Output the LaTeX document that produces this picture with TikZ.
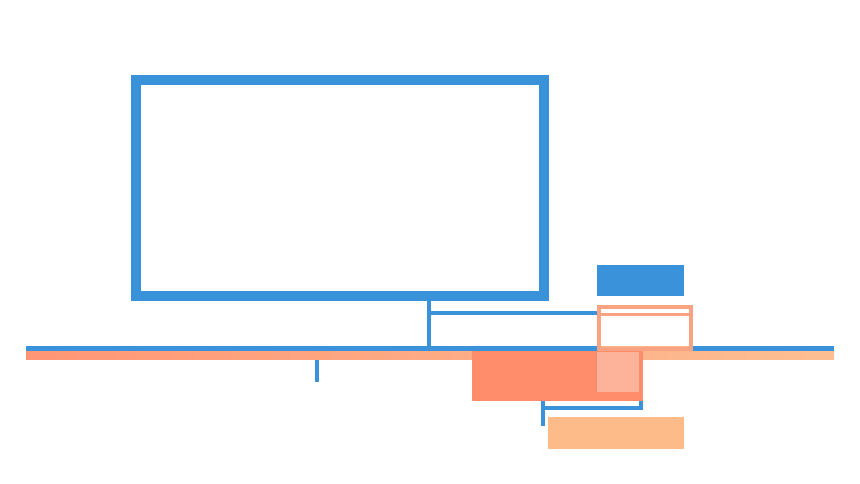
\documentclass[tikz,border=0pt]{standalone}
\definecolor{cblue}{HTML}{3A92DA}
\definecolor{csalmon}{HTML}{FF8D6C}
\definecolor{clight}{HTML}{FDB39A}
\definecolor{coutline}{HTML}{F9A383}
\definecolor{cpeach}{HTML}{FDBB8A}
\definecolor{corangeL}{HTML}{FF9676}
\definecolor{corangeR}{HTML}{FDBF92}
\tikzset{
  box/.style={draw=none, inner sep=0pt, outer sep=0pt, anchor=north west},
  wire/.style={draw=cblue, line width=4pt},
}
\begin{document}
\begin{tikzpicture}[x=1pt,y=-1pt]
\useasboundingbox[fill=white] (0,0) rectangle (860,484);
% screen
\node[draw=cblue, line width=10pt, inner sep=0pt, outer sep=0pt, minimum width=408pt, minimum height=216pt, anchor=north west] (screen) at (136,80) {};
% baseline
\coordinate (bl) at (26,348.5);
\coordinate (br) at (834,348.5);
\draw[cblue, line width=5pt] (bl) -- (br);
\node[box, minimum width=808pt, minimum height=8pt, left color=corangeL, right color=corangeR] (band) at (26,351.5) {};
% blue filled box
\node[box, fill=cblue, minimum width=87pt, minimum height=31pt] (bluebox) at (597,265) {};
% orange outline box
\fill[corangeR!70!corangeL] (597,345.5) rectangle (692,351.5);
\node[draw=coutline, line width=3.5pt, inner sep=0pt, outer sep=0pt, minimum width=92pt, minimum height=42pt, anchor=north west] (obox) at (598.75,307) {};
\coordinate (oi1) at (599,314.5);
\coordinate (oi2) at (691,314.5);
\draw[coutline, line width=3pt] (oi1) -- (oi2);
% connectors from screen
\coordinate (s1) at (429,301);
\coordinate (s2) at (429,346);
\coordinate (s3) at (429,313);
\coordinate (s4) at (597,313);
\draw[wire] (s1) -- (s2);
\draw[wire] (s3) -- (s4);
% small tick
\coordinate (t1) at (317,359.5);
\coordinate (t2) at (317,382);
\draw[wire] (t1) -- (t2);
% salmon box
\node[box, fill=csalmon, minimum width=171pt, minimum height=50pt] (sbox) at (472,351) {};
\node[box, fill=clight, minimum width=42pt, minimum height=40pt] (lbox) at (597,352) {};
% bracket
\coordinate (k1) at (543,401);
\coordinate (k2) at (543,426);
\coordinate (k3) at (543,408);
\coordinate (k4) at (641,408);
\coordinate (k5) at (641,401);
\draw[wire] (k1) -- (k2);
\draw[wire] (k3) -- (k4) -- (k5);
% peach box
\node[box, fill=cpeach, minimum width=136pt, minimum height=32pt] (pbox) at (548,417) {};
\end{tikzpicture}
\end{document}
